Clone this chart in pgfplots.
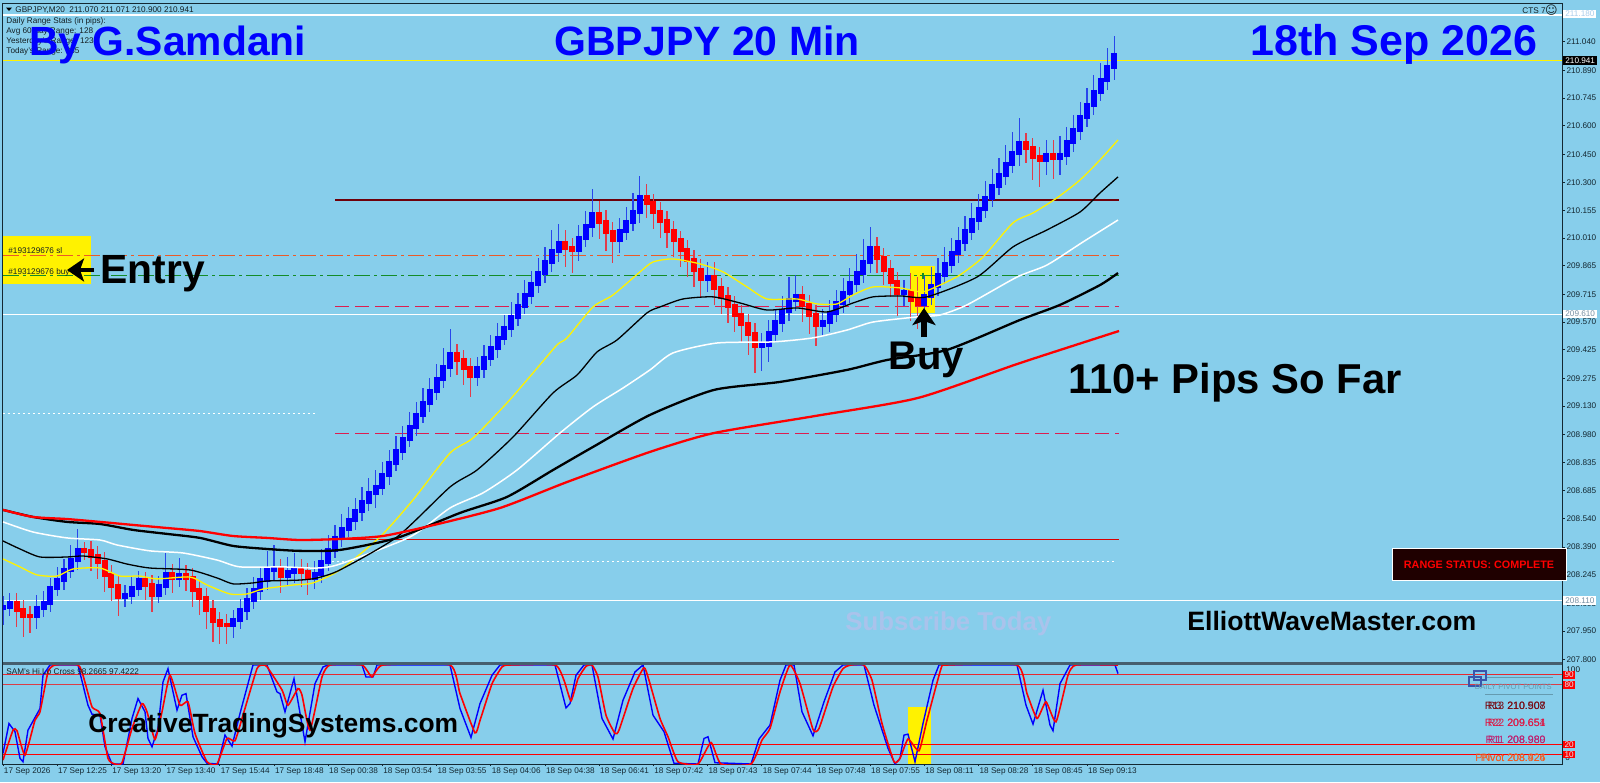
\documentclass[border=0pt]{standalone}
\usepackage{pgfplots}
\usepackage{pgfplotstable}
\usepackage{fontspec}
\setmainfont{Liberation Sans}
\newfontfamily\djv{DejaVu Sans}
\pgfplotsset{compat=1.18}
\usetikzlibrary{arrows.meta}
\definecolor{bgc}{RGB}{135,206,235}
\definecolor{axc}{RGB}{20,40,50}
\definecolor{wickb}{RGB}{40,70,235}
\definecolor{wickr}{RGB}{225,60,75}
\definecolor{orng}{RGB}{235,90,40}
\definecolor{grn}{RGB}{20,140,40}
\definecolor{crim}{RGB}{220,30,80}
\definecolor{dred}{RGB}{110,0,10}
\definecolor{pale}{RGB}{170,205,235}
\definecolor{subs}{RGB}{170,195,235}
\definecolor{sepc}{RGB}{70,95,110}
\definecolor{piv1}{RGB}{120,10,20}
\definecolor{piv2}{RGB}{220,25,70}
\definecolor{piv3}{RGB}{190,30,110}
\definecolor{piv4}{RGB}{245,90,30}

% bar  open  close  wick above  wick below
\pgfplotstableread{
i o c u d
0 208.071 208.076 .06 .09
1 208.076 208.097 .05 .05
5 208.029 208.071 .07 .07
6 208.071 208.097 .06 .05
7 208.097 208.176 .05 .05
8 208.176 208.217 .07 .04
9 208.217 208.270 .06 .05
10 208.270 208.322 .08 .04
11 208.322 208.375 .11 .05
18 208.128 208.139 .05 .05
19 208.139 208.176 .06 .05
20 208.176 208.217 .05 .04
23 208.139 208.186 .05 .04
24 208.186 208.249 .11 .05
26 208.228 208.244 .09 .05
34 207.981 208.008 .05 .07
35 208.008 208.060 .06 .05
36 208.060 208.113 .06 .05
37 208.113 208.165 .07 .05
38 208.165 208.217 .07 .05
39 208.217 208.270 .10 .05
40 208.270 208.280 .12 .06
42 208.238 208.259 .08 .05
43 208.259 208.270 .09 .06
46 208.228 208.249 .07 .06
47 208.249 208.312 .07 .05
48 208.312 208.375 .08 .05
49 208.375 208.438 .07 .04
50 208.438 208.485 .08 .05
51 208.485 208.532 .07 .04
52 208.532 208.579 .07 .05
53 208.579 208.627 .08 .05
54 208.627 208.674 .08 .05
55 208.674 208.705 .09 .08
56 208.705 208.768 .07 .04
57 208.768 208.831 .07 .05
58 208.831 208.894 .08 .04
59 208.894 208.957 .07 .05
60 208.957 209.020 .08 .04
61 209.020 209.083 .07 .05
62 209.083 209.146 .08 .04
63 209.146 209.209 .07 .05
64 209.209 209.272 .08 .05
65 209.272 209.334 .10 .05
66 209.334 209.403 .13 .05
70 209.287 209.329 .06 .05
71 209.329 209.382 .07 .05
72 209.382 209.434 .07 .04
73 209.434 209.487 .08 .05
74 209.487 209.539 .07 .04
75 209.539 209.597 .08 .05
76 209.597 209.654 .07 .05
77 209.654 209.712 .08 .04
78 209.712 209.770 .07 .05
79 209.770 209.827 .08 .05
80 209.827 209.885 .08 .05
81 209.885 209.943 .11 .05
82 209.943 209.985 .10 .06
85 209.948 210.011 .07 .06
86 210.011 210.074 .08 .05
87 210.074 210.137 .13 .06
91 210.000 210.048 .07 .07
92 210.048 210.095 .08 .05
93 210.095 210.147 .10 .05
94 210.147 210.226 .11 .06
104 209.796 209.806 .08 .07
112 209.445 209.450 .06 .13
113 209.450 209.513 .07 .09
114 209.513 209.570 .07 .05
115 209.570 209.628 .08 .05
116 209.628 209.686 .12 .05
117 209.686 209.707 .11 .06
121 209.555 209.570 .07 .06
122 209.570 209.618 .07 .05
123 209.618 209.670 .07 .05
124 209.670 209.722 .08 .05
125 209.722 209.775 .08 .05
126 209.775 209.827 .10 .05
127 209.827 209.885 .12 .05
128 209.885 209.958 .11 .06
133 209.722 209.728 .06 .07
136 209.665 209.707 .11 .10
137 209.707 209.759 .10 .05
138 209.759 209.817 .09 .05
139 209.817 209.875 .09 .05
140 209.875 209.932 .08 .05
141 209.932 209.990 .08 .05
142 209.990 210.048 .08 .05
143 210.048 210.105 .09 .05
144 210.105 210.163 .08 .05
145 210.163 210.221 .09 .05
146 210.221 210.284 .09 .05
147 210.284 210.341 .09 .05
148 210.341 210.399 .10 .05
149 210.399 210.457 .11 .05
150 210.457 210.509 .13 .07
154 210.420 210.446 .08 .08
156 210.430 210.446 .10 .09
157 210.446 210.514 .08 .05
158 210.514 210.577 .08 .05
159 210.577 210.645 .08 .05
160 210.645 210.708 .09 .05
161 210.708 210.777 .09 .05
162 210.777 210.839 .09 .05
163 210.839 210.908 .10 .05
164 210.908 210.971 .10 .07
}\bluebars

\pgfplotstableread{
i o c u d
2 208.097 208.060 .05 .09
3 208.060 208.029 .05 .11
4 208.029 208.029 .05 .09
12 208.375 208.370 .04 .05
13 208.370 208.343 .05 .08
14 208.343 208.312 .05 .09
15 208.312 208.244 .05 .09
16 208.244 208.186 .05 .08
17 208.186 208.128 .05 .10
21 208.217 208.191 .04 .08
22 208.191 208.139 .05 .09
25 208.249 208.228 .05 .08
27 208.244 208.228 .05 .07
28 208.228 208.165 .05 .09
29 208.165 208.123 .05 .09
30 208.123 208.060 .05 .10
31 208.060 208.002 .05 .11
32 208.002 207.981 .05 .10
33 207.981 207.981 .06 .10
41 208.280 208.238 .05 .09
44 208.270 208.259 .06 .08
45 208.259 208.228 .05 .09
67 209.403 209.371 .05 .08
68 209.371 209.329 .05 .09
69 209.329 209.287 .05 .11
83 209.985 209.959 .07 .10
84 209.959 209.948 .05 .12
88 210.137 210.095 .07 .09
89 210.095 210.042 .06 .10
90 210.042 210.000 .05 .12
95 210.226 210.194 .07 .08
96 210.194 210.147 .05 .09
97 210.147 210.100 .05 .09
98 210.100 210.048 .05 .09
99 210.048 210.000 .05 .09
100 210.000 209.948 .05 .09
101 209.948 209.896 .05 .09
102 209.896 209.843 .05 .09
103 209.843 209.796 .06 .10
105 209.806 209.749 .08 .09
106 209.749 209.702 .05 .09
107 209.702 209.654 .05 .09
108 209.654 209.607 .05 .09
109 209.607 209.560 .05 .10
110 209.560 209.507 .05 .11
111 209.507 209.445 .06 .14
118 209.707 209.660 .05 .09
119 209.660 209.607 .05 .10
120 209.607 209.555 .05 .11
129 209.958 209.906 .06 .08
130 209.906 209.843 .05 .08
131 209.843 209.780 .05 .08
132 209.780 209.722 .05 .12
134 209.728 209.686 .10 .11
135 209.686 209.665 .12 .13
151 210.509 210.483 .05 .08
152 210.483 210.436 .05 .12
153 210.436 210.420 .05 .14
155 210.446 210.430 .08 .11
}\redbars

\begin{document}
\begin{tikzpicture}
\begin{scope}[x=0.5pt,y=-0.5pt]
\path[use as bounding box] (0,0) rectangle (1600,782);
\fill[bgc] (0,0) rectangle (1600,782);
% highlighted boxes behind the price and oscillator series
\fill[yellow] (3,236) rectangle (91,284);
\fill[yellow] (910,266) rectangle (935,313);
\fill[yellow] (908,707) rectangle (931,764);
\end{scope}

\begin{axis}[
  at={(1.5pt,-1.5pt)}, anchor=north west, scale only axis,
  width=779.5pt, height=330pt,
  xmin=3, xmax=1562, ymin=207.782, ymax=211.243,
  clip mode=individual,
  axis line style={color=axc,line width=0.5pt},
  xtick=\empty,
  ytick={211.04,210.89,210.745,210.6,210.45,210.3,210.155,210.01,209.865,209.715,209.57,209.425,209.275,209.13,208.98,208.835,208.685,208.54,208.39,208.245,208.095,207.95,207.8},
  ytick pos=right, yticklabel pos=right, tick align=outside,
  major tick length=1.5pt,
  tick style={color=axc,line width=0.4pt},
  scaled y ticks=false,
  yticklabel style={/pgf/number format/.cd,fixed,fixed zerofill,precision=3,assume math mode=true,/tikz/.cd,font=\fontsize{4.1pt}{5pt}\selectfont,text=axc,anchor=west,inner xsep=0pt,xshift=0.6pt},
  ]
% full-width price lines
\addplot[white,line width=0.7pt] coordinates {(3,211.18) (1562,211.18)};
\addplot[yellow,line width=0.5pt] coordinates {(3,210.941) (1562,210.941)};
\addplot[white,line width=0.8pt] coordinates {(3,209.61) (1562,209.61)};
\addplot[white,line width=0.8pt] coordinates {(3,208.11) (1562,208.11)};
% shorter levels
\addplot[dred,line width=0.65pt] coordinates {(335,210.21) (1119,210.21)};
\addplot[orng,line width=0.4pt,dash pattern=on 8pt off 2pt on 1.5pt off 2pt] coordinates {(3,209.922) (1119,209.922)};
\addplot[grn,line width=0.4pt,dash pattern=on 8pt off 2pt on 1.5pt off 2pt] coordinates {(3,209.813) (1119,209.813)};
\addplot[crim,line width=0.5pt,dash pattern=on 7pt off 3pt] coordinates {(335,209.654) (1119,209.654)};
\addplot[crim,line width=0.5pt,dash pattern=on 7pt off 3pt] coordinates {(335,208.983) (1119,208.983)};
\addplot[red!85!black,line width=0.5pt] coordinates {(335,208.432) (1119,208.432)};
\addplot[white,line width=0.4pt,dash pattern=on 1pt off 1.5pt] coordinates {(3,209.093) (316,209.093)};
\addplot[white,line width=0.4pt,dash pattern=on 1pt off 1.5pt] coordinates {(327,208.317) (1115,208.317)};

% candles: wicks
\addplot[draw=none,no marks,error bars/.cd,y dir=both,y explicit,error mark=none,error bar style={draw=wickb,line width=0.6pt}]
  table[x expr=3+6.775*\thisrow{i},y=c,y error plus expr=\thisrow{u},y error minus expr=\thisrow{c}-\thisrow{o}+\thisrow{d}] {\bluebars};
\addplot[draw=none,no marks,error bars/.cd,y dir=both,y explicit,error mark=none,error bar style={draw=wickr,line width=0.6pt}]
  table[x expr=3+6.775*\thisrow{i},y=c,y error plus expr=\thisrow{o}-\thisrow{c}+\thisrow{u},y error minus expr=\thisrow{d}] {\redbars};
% candles: bodies
\addplot[draw=none,no marks,error bars/.cd,y dir=both,y explicit,error mark=none,error bar style={draw=blue,line width=3pt}]
  table[x expr=3+6.775*\thisrow{i},y=c,y error plus expr=0.012,y error minus expr=\thisrow{c}-\thisrow{o}+0.012] {\bluebars};
\addplot[draw=none,no marks,error bars/.cd,y dir=both,y explicit,error mark=none,error bar style={draw=red,line width=3pt}]
  table[x expr=3+6.775*\thisrow{i},y=c,y error plus expr=\thisrow{o}-\thisrow{c}+0.012,y error minus expr=0.012] {\redbars};
\addplot[only marks,mark=+,mark size=1.6pt,grn,line width=0.6pt] coordinates {(923,209.813)};

% moving averages
\addplot[yellow,line width=0.65pt,smooth,tension=0.4] coordinates {(3,208.328)(20,208.286)(37,208.244)(57,208.238)(73,208.275)(100,208.280)(120,208.238)(140,208.238)(157,208.223)(190,208.233)(207,208.191)(230,208.144)(247,208.144)(263,208.170)(293,208.191)(313,208.202)(340,208.270)(380,208.443)(413,208.637)(450,208.883)(473,208.962)(507,209.146)(533,209.303)(557,209.450)(567,209.487)(593,209.649)(613,209.712)(640,209.833)(653,209.885)(673,209.901)(700,209.875)(723,209.833)(747,209.754)(767,209.691)(797,209.691)(817,209.665)(837,209.665)(853,209.712)(873,209.754)(900,209.749)(922,209.728)(940,209.764)(960,209.817)(983,209.911)(1013,210.090)(1033,210.142)(1057,210.221)(1080,210.315)(1100,210.420)(1118,210.525)};
\addplot[white,line width=0.75pt,smooth,tension=0.4] coordinates {(3,208.522)(33,208.469)(67,208.438)(100,208.427)(117,208.401)(150,208.370)(183,208.359)(217,208.322)(240,208.286)(283,208.286)(317,208.280)(340,208.301)(410,208.443)(450,208.595)(483,208.674)(517,208.794)(560,208.988)(593,209.125)(623,209.224)(650,209.319)(673,209.408)(717,209.460)(773,209.466)(813,209.487)(847,209.528)(873,209.570)(917,209.597)(940,209.607)(967,209.660)(1017,209.806)(1047,209.869)(1083,209.990)(1118,210.105)};
\addplot[black,line width=0.65pt,smooth,tension=0.4] coordinates {(3,208.422)(20,208.380)(40,208.338)(67,208.338)(83,208.343)(107,208.328)(127,208.301)(150,208.280)(190,208.270)(217,208.228)(233,208.197)(253,208.202)(267,208.212)(300,208.217)(317,208.228)(340,208.270)(397,208.443)(450,208.705)(477,208.794)(513,208.967)(553,209.198)(577,209.292)(597,209.413)(617,209.476)(647,209.618)(660,209.649)(683,209.691)(713,209.702)(740,209.670)(767,209.633)(797,209.644)(827,209.623)(853,209.670)(873,209.702)(900,209.707)(927,209.702)(977,209.806)(1013,209.964)(1047,210.053)(1080,210.147)(1100,210.247)(1118,210.331)};
\addplot[black,line width=1.15pt,smooth,tension=0.4] coordinates {(3,208.585)(33,208.548)(67,208.522)(100,208.511)(133,208.480)(167,208.459)(200,208.438)(233,208.396)(267,208.380)(300,208.370)(340,208.375)(397,208.438)(460,208.569)(507,208.653)(553,208.794)(593,208.915)(650,209.083)(714,209.214)(780,209.256)(847,209.319)(887,209.371)(947,209.424)(1020,209.581)(1060,209.660)(1100,209.764)(1118,209.827)};
\addplot[red,line width=1.15pt,smooth,tension=0.4] coordinates {(3,208.585)(33,208.548)(67,208.537)(100,208.522)(133,208.506)(167,208.490)(200,208.474)(233,208.448)(267,208.438)(300,208.427)(343,208.433)(383,208.448)(430,208.501)(500,208.595)(567,208.731)(650,208.889)(714,208.988)(816,209.078)(918,209.172)(1020,209.355)(1119,209.523)};
\end{axis}

\begin{axis}[
  at={(1.5pt,-332pt)}, anchor=north west, scale only axis,
  width=779.5pt, height=50pt,
  xmin=3, xmax=1562, ymin=0, ymax=101,
  clip mode=individual,
  axis line style={color=axc,line width=0.5pt},
  ytick=\empty,
  xtick={3,57.2,111.4,165.6,219.8,274,328.2,382.4,436.6,490.8,545,599.2,653.4,707.6,761.8,816,870.2,924.4,978.6,1032.8,1087},
  xticklabels={17 Sep 2026,17 Sep 12:25,17 Sep 13:20,17 Sep 13:40,17 Sep 15:44,17 Sep 18:48,18 Sep 00:38,18 Sep 03:54,18 Sep 03:55,18 Sep 04:06,18 Sep 04:38,18 Sep 06:41,18 Sep 07:42,18 Sep 07:43,18 Sep 07:44,18 Sep 07:48,18 Sep 07:55,18 Sep 08:11,18 Sep 08:28,18 Sep 08:45,18 Sep 09:13},
  xtick pos=bottom, tick align=outside, major tick length=1pt,
  tick style={color=axc,line width=0.4pt},
  xticklabel style={font=\fontsize{4.1pt}{5pt}\selectfont,text=axc,anchor=north west,inner xsep=0pt,inner ysep=0.8pt,xshift=0.3pt},
  ]
\addplot[red,line width=0.55pt,opacity=0.8] coordinates {(3,90)(1562,90)};
\addplot[red,line width=0.55pt,opacity=0.7] coordinates {(3,80)(1562,80)};
\addplot[red,line width=0.55pt] coordinates {(3,20)(1562,20)};
\addplot[red,line width=0.55pt] coordinates {(3,10)(1562,10)};
\addplot[blue,line width=0.7pt] coordinates {(3,10.7)(9,40.9)(15,32.6)(20,5.7)(23,2.3)(28,34.2)(40,56)(43,89.6)(50,100)(78,100)(88,59.4)(92,50.3)(100,49.3)(105,17.4)(112,0)(123,0)(132,46)(138,66.1)(145,52.7)(148,25.8)(152,17.4)(158,35.9)(163,82.9)(168,96.3)(177,54.4)(182,69.5)(186,71.1)(193,27.5)(202,7.4)(207,0.7)(218,0)(225,29.2)(232,18.1)(240,51)(253,100)(267,100)(272,86.2)(277,72.8)(280,71.1)(285,52.7)(294,86.2)(305,22.5)(315,81.2)(323,98)(328,100)(362,100)(366,87.9)(373,87.9)(377,100)(450,100)(460,56)(471,26.8)(480,61)(492,89.6)(500,100)(555,100)(566,56.7)(570,61)(576,89.6)(584,100)(592,100)(602,46)(613,25.2)(623,64.4)(635,93)(643,100)(653,49.3)(664,32.6)(674,0.7)(698,0)(704,25.8)(708,27.5)(715,1.3)(751,0)(759,25.2)(770,39.3)(780,84.6)(786,100)(794,100)(802,52.7)(813,28.5)(824,62.8)(835,93)(843,100)(864,100)(874,59.4)(888,15.8)(895,0)(900,5.7)(904,29.2)(908,30.2)(915,2.3)(923,40.9)(933,84.6)(939,100)(1017,100)(1026,59.4)(1033,40.3)(1043,74.5)(1050,39.3)(1053,33.6)(1060,81.2)(1070,100)(1115,100)(1118,91.3)};
\addplot[red,line width=0.8pt,smooth,tension=0.3] coordinates {(3,4)(13,34.2)(17,33.6)(25,9)(35,44.3)(40,52.7)(48,93)(55,100)(78,100)(83,89.6)(92,57.7)(100,51)(108,5.7)(115,0)(122,1.3)(132,35.9)(142,61)(147,52.7)(155,24.8)(162,52.7)(170,89.6)(180,59.4)(188,62.8)(195,30.9)(207,2.3)(217,0)(227,25.8)(235,23.5)(243,49.3)(257,96.3)(263,100)(267,98.3)(282,74.8)(288,59.4)(298,76.2)(302,69.5)(310,34.2)(322,87.9)(330,100)(362,100)(372,87.9)(383,100)(450,100)(460,71.1)(475,31.5)(480,44)(492,81)(502,98)(509,100)(555,100)(564,84.6)(571,63.8)(578,86.2)(586,98.7)(592,100)(598,87.9)(606,49.3)(615,30.9)(619,34.2)(633,76.2)(644,97.3)(649,84.6)(660,46)(668,27.5)(678,2.3)(698,0)(711,21.8)(721,0)(751,0)(762,24.2)(770,35.9)(780,72.8)(790,100)(800,81.2)(813,34.9)(819,35.9)(833,77.9)(843,96.3)(851,100)(864,100)(872,84.6)(882,40.9)(894,2.3)(900,5.7)(908,25.2)(919,13.4)(927,44.3)(941,96.3)(947,100)(1017,100)(1027,71.1)(1037,46)(1046,62.8)(1056,42.6)(1068,89.6)(1076,100)(1118,100)};
\end{axis}

\begin{scope}[x=0.5pt,y=-0.5pt]
% panel separator
\fill[sepc] (3,662) rectangle (1562,665);

% small texts
\tikzset{sm/.style={inner sep=0pt,font=\fontsize{4.1pt}{5pt}\selectfont,text=black!85!bgc}}
\fill[black] (6,7.5) -- (12,7.5) -- (9,11) -- cycle;
\node[sm,anchor=base west] at (15,12) {GBPJPY,M20\ \ 211.070 211.071 210.900 210.941};
\node[sm,anchor=base west] at (6,23) {Daily Range Stats (in pips):};
\node[sm,anchor=base west] at (6,33) {Avg 60-day Range: 128};
\node[sm,anchor=base west] at (6,43) {Yesterday's Range: 123};
\node[sm,anchor=base west] at (6,53) {Today's Range: 285};
\node[sm,anchor=base east] at (1546,13) {CTS 7};
\node[sm,anchor=base east] at (1558,14) {\djv\fontsize{6pt}{6pt}\selectfont ☺};
\node[sm,anchor=base west] at (8,253) {\#193129676 sl};
\node[sm,anchor=base west] at (8,274) {\#193129676 buy};
\node[sm,anchor=base west] at (6,674) {SAM's Hi.Lo Cross 98.2665 97.4222};

% big titles
\tikzset{bigb/.style={inner sep=0pt,font=\fontsize{20pt}{24pt}\selectfont\bfseries}}
\node[bigb,text=blue,anchor=base west,font=\fontsize{20.4pt}{24pt}\selectfont\bfseries] at (29,55) {By G.Samdani};
\node[bigb,text=blue,anchor=base west,font=\fontsize{20.5pt}{24pt}\selectfont\bfseries] at (554,55) {GBPJPY 20 Min};
\node[bigb,text=blue,anchor=base west,font=\fontsize{21.5pt}{24pt}\selectfont\bfseries] at (1250,55) {18th Sep 2026};
\node[bigb,anchor=base west,font=\fontsize{20.4pt}{24pt}\selectfont\bfseries] at (100,283) {Entry};
\node[bigb,anchor=base west] at (888,369) {Buy};
\node[bigb,anchor=base west,font=\fontsize{20.9pt}{24pt}\selectfont\bfseries] at (1068,393) {110+ Pips So Far};
\node[inner sep=0pt,anchor=base west,font=\fontsize{13.3pt}{16pt}\selectfont\bfseries] at (1187,630) {ElliottWaveMaster.com};
\node[inner sep=0pt,anchor=base west,text=subs,font=\fontsize{12.9pt}{16pt}\selectfont\bfseries] at (845,630) {Subscribe Today};
\node[inner sep=0pt,anchor=base west,font=\fontsize{13.2pt}{16pt}\selectfont\bfseries] at (88,732) {CreativeTradingSystems.com};

% arrows
\draw[black,line width=2.2pt,-{Stealth[length=8.5pt,width=11.5pt,inset=2pt]}] (94,270) -- (67,270);
\draw[black,line width=2.6pt,-{Stealth[length=8.5pt,width=11.5pt,inset=2pt]}] (924,337) -- (924,308);

% status box
\fill[black!88!red,draw=white,line width=0.4pt] (1392,548) rectangle (1566,580);
\node[inner sep=0pt,text=red,font=\fontsize{5.4pt}{6pt}\selectfont\bfseries] at (1479,565) {RANGE STATUS: COMPLETE};

% price tags
\tikzset{tag/.style={inner xsep=1pt,inner ysep=0.6pt,anchor=west,font=\fontsize{4.1pt}{5pt}\selectfont}}
\node[tag,fill=white,text=pale] at (1563,14) {211.180};
\node[tag,fill=black,text=white] at (1563,60.5) {210.941};
\node[tag,fill=white,text=black!30!pale] at (1563,314) {209.610};
\node[tag,fill=white,text=black!30!pale] at (1563,600.5) {208.110};
\node[sm,anchor=west] at (1566,669.5) {100};
\node[sm,anchor=west] at (1565,758) {0};
\tikzset{lvl/.style={fill=red,text=pale!40!white,inner xsep=0.6pt,inner ysep=0.5pt,anchor=west,font=\fontsize{4.1pt}{5pt}\selectfont}}
\node[lvl] at (1563,675) {90};
\node[lvl] at (1563,685) {80};
\node[lvl] at (1563,744.5) {20};
\node[lvl] at (1563,754.5) {10};

% pivot panel overlays
\draw[black!25!bgc,line width=0.5pt] (1485,677) -- (1553,677);
\draw[black!25!bgc,line width=0.5pt] (1485,694.5) -- (1553,694.5);
\draw[blue!40!bgc!70!black,line width=0.6pt] (1474,671) rectangle (1486,680);
\draw[blue!40!bgc!70!black,line width=0.6pt] (1469,677) rectangle (1481,686);
\tikzset{pv/.style={inner sep=0pt,anchor=base east,font=\fontsize{5.3pt}{6pt}\selectfont}}
\node[inner sep=0pt,anchor=base east,text=black!25!bgc,font=\fontsize{3.8pt}{5pt}\selectfont] at (1552,689) {DAILY PIVOT POINTS};
\node[pv,text=piv1] at (1546,709) {R3\ \ 210.908};
\node[pv,text=piv1] at (1546,709) {R13 210.507};
\node[pv,text=piv2] at (1546,726) {R2\ \ 209.654};
\node[pv,text=piv2] at (1546,726) {R22 209.651};
\node[pv,text=piv3] at (1546,743) {R1\ \ 208.980};
\node[pv,text=piv3] at (1546,743) {R11 208.989};
\node[pv,text=piv4] at (1546,761) {Pivot 208.426};
\node[pv,text=piv4] at (1546,761) {PNvot 208.924};
\end{scope}
\end{tikzpicture}
\end{document}
